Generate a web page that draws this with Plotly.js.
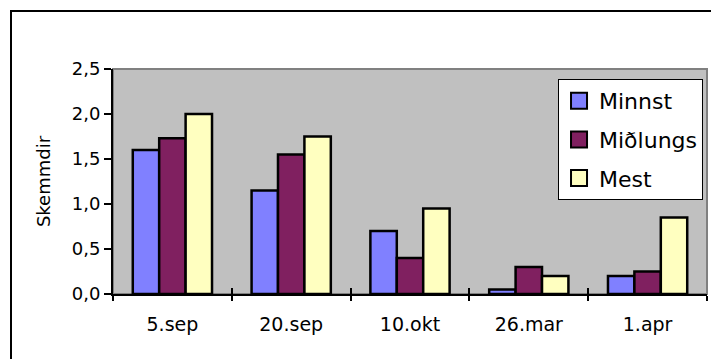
<!DOCTYPE html>
<html>
<head>
<meta charset="utf-8">
<script src="https://cdn.plot.ly/plotly-3.0.1.min.js"></script>
<style>
  html, body { margin: 0; padding: 0; background: #ffffff; overflow: hidden; }
  #frame { position: absolute; left: 10px; top: 10px; width: 900px; height: 600px;
           border-left: 2px solid #000; border-top: 2px solid #000; }
  #chart { position: absolute; left: 0; top: 0; width: 711px; height: 359px; }
</style>
</head>
<body>
<div id="frame"></div>
<div id="chart"></div>
<script>
// Sampling dates
const dates = ['5.sep', '20.sep', '10.okt', '26.mar', '1.apr'];

// Damage scores per group
const minnst   = [1.60, 1.15, 0.70, 0.05, 0.20];
const midlungs = [1.73, 1.55, 0.40, 0.30, 0.25];
const mest     = [2.00, 1.75, 0.95, 0.20, 0.85];

const seriesNames = ['Minnst', 'Miðlungs', 'Mest'];
const seriesColors = ['#8080FF', '#802060', '#FFFFC0'];

const yTicks = [0, 0.5, 1.0, 1.5, 2.0, 2.5];
const yTickText = ['0,0', '0,5', '1,0', '1,5', '2,0', '2,5'];

const font = 'DejaVu Sans, Arial, sans-serif';

const bars = [minnst, midlungs, mest].map((vals, i) => ({
  type: 'bar',
  name: seriesNames[i],
  x: dates,
  y: vals,
  showlegend: false,
  marker: { color: seriesColors[i], line: { color: '#000000', width: 2.5 } },
  hoverinfo: 'skip'
}));

// legend keys: square markers so the swatches can be drawn larger than the bar default
const keys = seriesNames.map((name, i) => ({
  type: 'scatter',
  mode: 'markers',
  name: name,
  x: [dates[0]],
  y: [null],
  legendgroup: 'g' + i,
  marker: { symbol: 'square', size: 17, color: seriesColors[i], line: { color: '#000000', width: 2 } },
  hoverinfo: 'skip'
}));

const layout = {
  width: 711,
  height: 359,
  margin: { l: 113, r: 4, t: 69, b: 65 },
  paper_bgcolor: 'rgba(0,0,0,0)',
  plot_bgcolor: '#C0C0C0',
  barmode: 'group',
  bargap: 0.333,
  bargroupgap: 0,
  font: { family: font, color: '#000000', size: 18 },
  xaxis: {
    type: 'category',
    categoryorder: 'array',
    categoryarray: dates,
    showline: true, linecolor: '#000000', linewidth: 2,
    ticks: 'outside', ticklen: 5, tickwidth: 2, tickcolor: '#000000',
    tickson: 'boundaries',
    ticklabelstandoff: 12,
    tickfont: { family: font, size: 19, color: '#000000' },
    showgrid: false, zeroline: false, fixedrange: true
  },
  xaxis2: {
    type: 'category',
    categoryorder: 'array',
    categoryarray: dates,
    matches: 'x',
    overlaying: 'x',
    anchor: 'y',
    ticks: 'inside', ticklen: 6, tickwidth: 2, tickcolor: '#000000',
    tickson: 'boundaries',
    showticklabels: false, showgrid: false, zeroline: false, showline: false
  },
  yaxis: {
    range: [0, 2.5],
    tickvals: yTicks,
    ticktext: yTickText,
    showline: true, linecolor: '#000000', linewidth: 2,
    ticks: 'outside', ticklen: 7, tickwidth: 2, tickcolor: '#000000',
    tickfont: { family: font, size: 18, color: '#000000' },
    showgrid: false, zeroline: false, fixedrange: true,
    title: { text: 'Skemmdir', font: { family: font, size: 18, color: '#000000' }, standoff: 16 }
  },
  legend: {
    x: 0.9933, xanchor: 'right',
    y: 0.9556, yanchor: 'top',
    bgcolor: '#ffffff',
    bordercolor: '#000000', borderwidth: 1,
    font: { family: font, size: 22, color: '#000000' },
    itemsizing: 'trace',
    itemwidth: 30,
    tracegroupgap: 7,
    traceorder: 'grouped'
  },
  shapes: [{
    type: 'rect', xref: 'paper', yref: 'paper', x0: 0, x1: 1, y0: 0, y1: 1,
    line: { color: '#808080', width: 2 }, fillcolor: 'rgba(0,0,0,0)', layer: 'below'
  }],
  showlegend: true
};

// an empty helper trace so the overlay axis draws its crossing ticks
const tickHelper = {
  type: 'bar', x: dates, y: dates.map(() => null), xaxis: 'x2', yaxis: 'y',
  showlegend: false, hoverinfo: 'skip'
};

Plotly.newPlot('chart', bars.concat([tickHelper], keys), layout, { displayModeBar: false, staticPlot: true });
</script>
</body>
</html>
